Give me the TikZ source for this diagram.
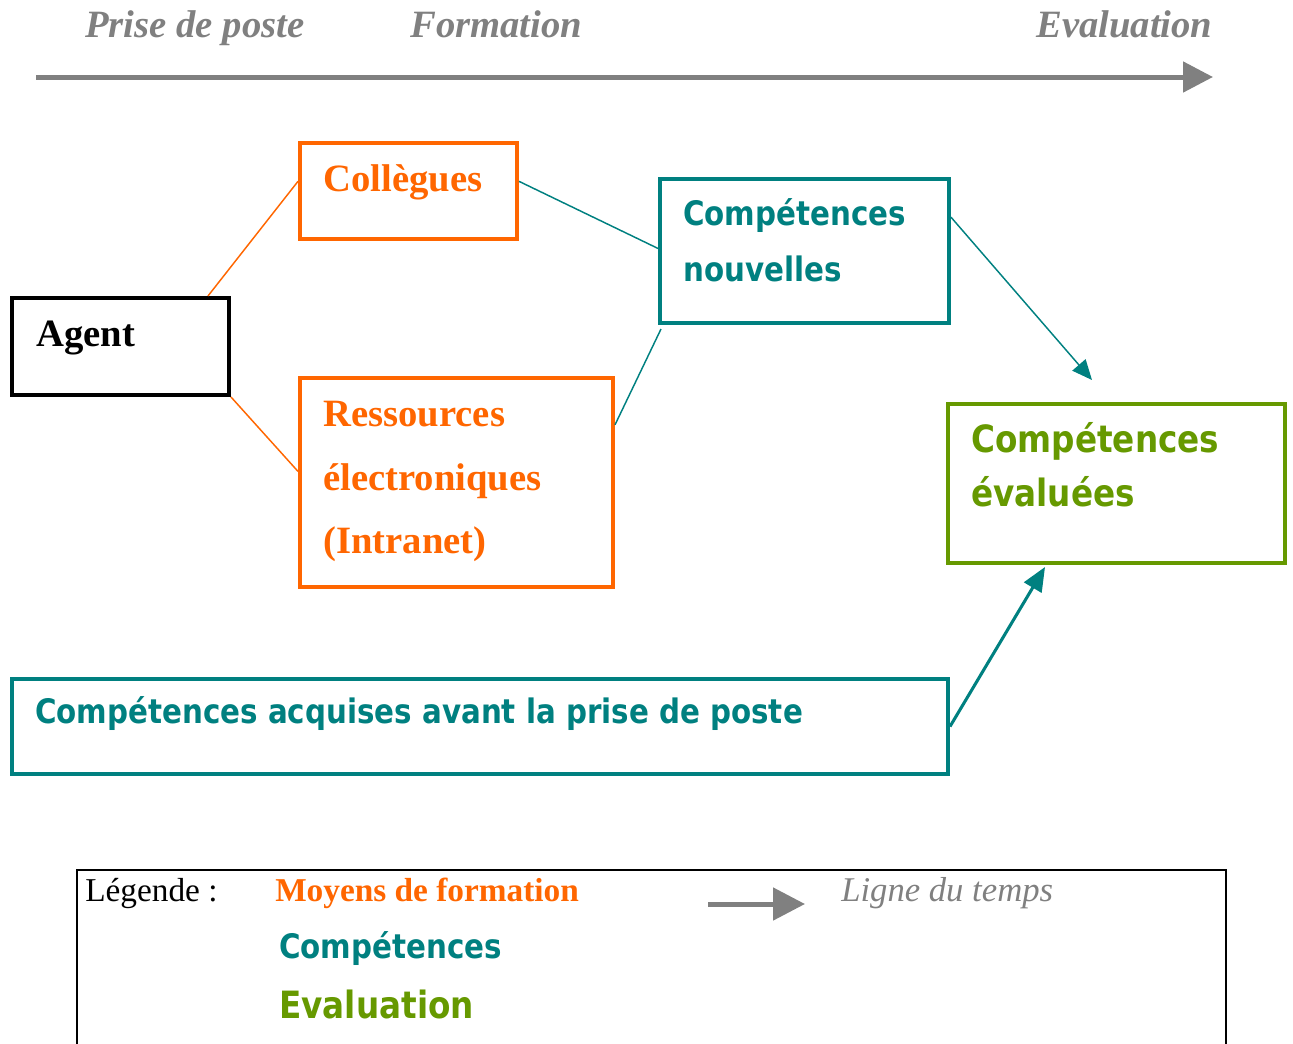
\documentclass[tikz,border=0pt]{standalone}
\usepackage{fontspec}
\usepackage{graphicx}
\setmainfont{Liberation Serif}
\newfontfamily\sansfam{DejaVu Sans}
\newcommand{\talltxt}[1]{\scalebox{1}[1.15]{#1}}
\usetikzlibrary{fit,arrows.meta,calc}
\definecolor{corange}{HTML}{FF6600}
\definecolor{cteal}{HTML}{008080}
\definecolor{cgreen}{HTML}{669900}
\definecolor{cgray}{HTML}{808080}
\tikzset{
  box/.style={draw, line width=3pt, inner sep=0pt, rectangle},
  obox/.style={box, draw=corange},
  tbox/.style={box, draw=cteal},
  gbox/.style={box, draw=cgreen},
  kbox/.style={box, draw=black},
  txt/.style={anchor=base west, inner sep=0pt},
  serb/.style={txt, font=\fontsize{29}{34}\selectfont\bfseries},
  sanb/.style={txt, font=\fontsize{22}{26}\selectfont\sansfam\bfseries},
  sanbig/.style={txt, font=\fontsize{24.5}{29}\selectfont\sansfam\bfseries},
  ital/.style={txt, text=cgray, font=\fontsize{29}{34}\selectfont\bfseries\itshape},
  thin/.style={line width=1.1pt},
  timearrow/.style={draw=cgray, line width=3.75pt, -{Triangle[length=22.5pt,width=22.5pt]}},
}
\begin{document}
\begin{tikzpicture}[x=0.75pt,y=-0.75pt]
\useasboundingbox (0,0) rectangle (1293,1043);
% timeline
\node[ital] (t1) at (85,37) {Prise de poste};
\node[ital] (t2) at (410,37) {Formation};
\node[ital] (t3) at (1036,37) {Evaluation};
\coordinate (ta) at (36,77);
\coordinate (tb) at (1213,77);
\draw[timearrow] (ta) -- (tb);
% boxes
\node[kbox, fit={(12,298) (229,395)}] (agent) {};
\node[obox, fit={(300,143) (517,239)}] (coll) {};
\node[obox, fit={(300,378) (613,587)}] (res) {};
\node[tbox, fit={(660,179) (949,323)}] (cn) {};
\node[gbox, fit={(948,404) (1285,563)}] (ce) {};
\node[tbox, fit={(12,679) (948,774)}] (acq) {};
% texts
\node[serb] (agentt) at (36,346) {Agent};
\node[serb, text=corange] (collt) at (323,191) {Collègues};
\node[serb, text=corange] (rest1) at (323,426) {Ressources};
\node[serb, text=corange] (rest2) at (323,490) {électroniques};
\node[serb, text=corange] (rest3) at (323,553) {(Intranet)};
\node[sanb, text=cteal] (cnt1) at (683,225) {\talltxt{Compétences}};
\node[sanb, text=cteal] (cnt2) at (683,281) {\talltxt{nouvelles}};
\node[sanbig, text=cgreen] (cet1) at (971,452) {\talltxt{Compétences}};
\node[sanbig, text=cgreen] (cet2) at (971,506) {\talltxt{évaluées}};
\node[sanb, text=cteal] (acqt) at (35,723) {\talltxt{Compétences acquises avant la prise de poste}};
% connectors
\draw[thin, corange] (agent.30) -- (coll.175.3);
\draw[thin, corange] (agent.south east) -- (res.176.5);
\draw[thin, cteal] (coll.5.3) -- (cn.179.2);
\draw[thin, cteal] (res.20.2) -- ([shift={(3,4)}]cn.south west);
\coordinate (cetip) at ([shift={(-24.5,-22)}]ce.north);
\draw[thin, cteal, -{Triangle[length=15pt,width=13pt]}] (cn.13.6) -- (cetip);
\draw[line width=2.3pt, cteal, -{Triangle[length=18pt,width=15pt]}] (acq.east) -- ([shift={(-71.5,2)}]ce.south);
% legend
\node[draw=black, line width=1.5pt, inner sep=0pt, fit={(77,870) (1226,1060)}] (leg) {};
\node[txt, font=\fontsize{25}{30}\selectfont] (legt) at (85,901) {Légende :};
\node[txt, text=corange, font=\fontsize{25}{30}\selectfont\bfseries] (lmoy) at (275,901) {Moyens de formation};
\coordinate (la) at (708,904);
\coordinate (lb) at (805,904);
\draw[draw=cgray, line width=3.75pt, -{Triangle[length=24pt,width=24pt]}] (la) -- (lb);
\node[txt, text=cgray, font=\fontsize{26}{30}\selectfont\itshape] (llt) at (841,901) {Ligne du temps};
\node[sanb, text=cteal] (lcomp) at (279,958) {\talltxt{Compétences}};
\node[sanbig, text=cgreen] (leval) at (279,1018) {\talltxt{Evaluation}};
\end{tikzpicture}
\end{document}
